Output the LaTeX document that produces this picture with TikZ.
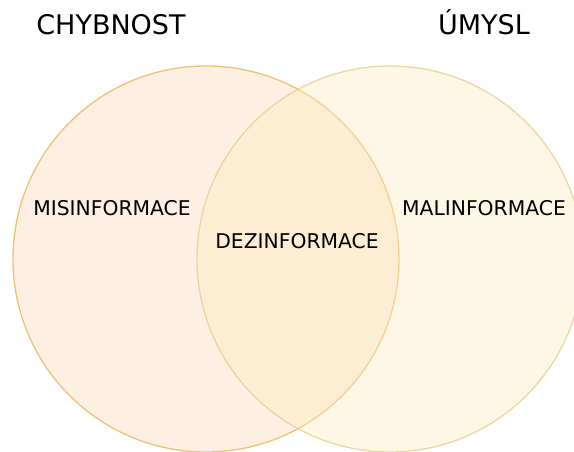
\documentclass[tikz,border=0pt]{standalone}
\usepackage{fontspec}
\setmainfont{DejaVu Sans}
\definecolor{chybfill}{HTML}{FDEFE2}
\definecolor{chybline}{HTML}{EAC375}
\definecolor{umyslfill}{HTML}{FCEBBE}
\definecolor{umyslline}{HTML}{E6CF8C}

\begin{document}
\begin{tikzpicture}[x=1pt, y=-1pt,
    set/.style={circle, minimum size=386pt, inner sep=0pt, line width=1.3pt},
    heading/.style={anchor=base, font=\fontsize{27}{32}\selectfont},
    zone/.style={anchor=base, font=\fontsize{20.3}{24}\selectfont}
]
    \useasboundingbox (0,0) rectangle (574,452);
    \clip (0,0) rectangle (574,452);
    \node[set, draw=chybline, fill=chybfill] (chybnost) at (206,259) {};
    \node[set, draw=umyslline, fill=umyslfill, fill opacity=0.4, draw opacity=0.8] (umysl) at (390,259) {};
    \node[heading] (tchyb) at (111,35) {CHYBNOST};
    \node[heading] (tumysl) at (484,35) {ÚMYSL};
    \node[zone] (mis) at (112,215.5) {MISINFORMACE};
    \node[zone] (dez) at (297,248) {DEZINFORMACE};
    \node[zone] (mal) at (484,215.5) {MALINFORMACE};
\end{tikzpicture}
\end{document}
